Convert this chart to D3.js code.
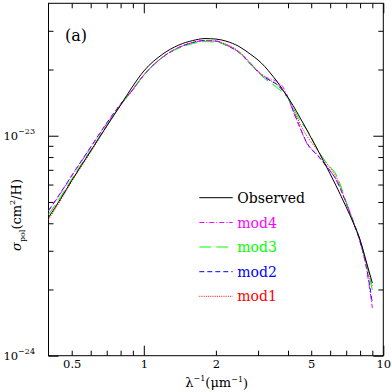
<!DOCTYPE html>
<html>
<head>
<meta charset="utf-8">
<script src="https://cdn.jsdelivr.net/npm/d3@7"></script>
<style>
  html, body { margin: 0; padding: 0; background: #fff; }
  svg { display: block; }
  text { font-family: "DejaVu Serif", serif; }
</style>
</head>
<body>
<svg id="chart" width="392" height="392"></svg>
<script>
// inverse wavelength (1/micron)
const invLambda = [0.4, 0.45, 0.5, 0.6, 0.7, 0.8, 0.9, 1.0, 1.2, 1.4, 1.6, 1.8, 2.0, 2.2, 2.5, 2.8, 3.0, 3.2, 3.4, 3.6, 3.8, 4.0, 4.2, 4.5, 4.8, 5.0, 5.3, 5.6, 6.0, 6.3, 6.6, 7.0, 7.5, 8.0, 8.5, 9.0];
// sigma_pol in units of 1e-23 cm^2/H
const observed = [0.4248,0.5182,0.6255,0.852,1.1067,1.379,1.682,1.968,2.351,2.584,2.708,2.765,2.751,2.694,2.544,2.339,2.209,2.063,1.908,1.764,1.622,1.492,1.372,1.203,1.061,0.976,0.870,0.775,0.670,0.603,0.543,0.474,0.401,0.336,0.2667,0.2141];
const mod4 = [0.4547,0.5489,0.6557,0.8839,1.136,1.3862,1.63,1.89,2.275,2.515,2.652,2.712,2.694,2.597,2.395,2.1287,1.955,1.85,1.8107,1.764,1.6737,1.492,1.295,1.08,0.922,0.872,0.822,0.762,0.693,0.64,0.58,0.497,0.408,0.331,0.25,0.1649];
const mod3 = [0.4384,0.5292,0.6354,0.8609,1.1125,1.379,1.6214,1.8873,2.2784,2.5042,2.6243,2.6796,2.666,2.5835,2.3891,2.1065,1.9481,1.8194,1.7365,1.6566,1.5719,1.4765,1.3436,1.1658,1.061,0.9862,0.870,0.7914,0.7209,0.6766,0.6029,0.4995,0.4052,0.336,0.2612,0.199];
const mod2 = [0.4571,0.5518,0.6591,0.8885,1.142,1.3935,1.6214,1.8873,2.2784,2.5173,2.6519,2.7078,2.6941,2.5835,2.3891,2.1065,1.9481,1.8385,1.7731,1.7095,1.6051,1.492,1.302,1.0834,0.9259,0.8698,0.817,0.759,0.6914,0.6421,0.5782,0.4943,0.4052,0.329,0.2531,0.1737];
const mod1 = [0.416,0.5101,0.619,0.8431,1.1009,1.3718,1.613,1.885,2.282,2.52,2.655,2.705,2.69,2.611,2.414,2.125,1.9687,1.8579,1.776,1.712,1.607,1.492,1.3296,1.1297,0.9964,0.936,0.8609,0.79,0.7134,0.6626,0.5905,0.493,0.404,0.3325,0.262,0.2053];

const seriesNames = ["Observed", "mod4", "mod3", "mod2", "mod1"];
const seriesColors = ["#000000", "#ff00ff", "#00ff00", "#0000ff", "#ff0000"];
const seriesDash = [null, "5,2,1,2", "12,5", "5,3", "1,1.2"];

const xTickLabels = [0.5, 1, 2, 5, 10];
const xMajorTicks = [1, 10];
const xMinorTicks = [0.5, 0.6, 0.7, 0.8, 0.9, 2, 3, 4, 5, 6, 7, 8, 9];
const yMajorTicks = [0.1, 1];
const yMajorExp = ["\u221224", "\u221223"];
const yMinorTicks = [0.2, 0.3, 0.4, 0.5, 0.6, 0.7, 0.8, 0.9, 2, 3];

const svg = d3.select("#chart");
const L = 48.5, R = 383.3, T = 3.3, B = 355.7;
const x = d3.scaleLog().domain([0.4, 10]).range([L, R]);
const y = d3.scaleLog().domain([0.1, 4]).range([B, T]);

// axes (ticks inward)
function addAxis(axis, tx, ty) {
  const g = svg.append("g").attr("transform", `translate(${tx},${ty})`).call(axis);
  g.select(".domain").remove();
  g.selectAll(".tick line").attr("stroke", "#000").attr("stroke-width", 1);
  g.selectAll("text").attr("font-family", "DejaVu Serif").attr("font-size", 11.5).attr("fill", "#000");
  return g;
}
// bottom
addAxis(d3.axisBottom(x).tickValues(xMinorTicks).tickSize(-5).tickFormat(""), 0, B);
addAxis(d3.axisBottom(x).tickValues(xMajorTicks).tickSize(-10).tickFormat(""), 0, B);
addAxis(d3.axisBottom(x).tickValues(xTickLabels).tickSize(0).tickPadding(4.5).tickFormat(d3.format("")), 0, B);
// top
addAxis(d3.axisTop(x).tickValues(xMinorTicks).tickSize(-5).tickFormat(""), 0, T);
addAxis(d3.axisTop(x).tickValues(xMajorTicks).tickSize(-10).tickFormat(""), 0, T);
// left
addAxis(d3.axisLeft(y).tickValues(yMinorTicks).tickSize(-5).tickFormat(""), L, 0);
const yl = addAxis(d3.axisLeft(y).tickValues(yMajorTicks).tickSize(-10).tickPadding(13.5).tickFormat(""), L, 0);
yl.selectAll(".tick text").each(function(d, i) {
  const t = d3.select(this).attr("dy", "0.37em");
  t.append("tspan").text("10");
  t.append("tspan").attr("font-size", 8).attr("dy", "-0.75em").text(yMajorExp[i]);
});
// right
addAxis(d3.axisRight(y).tickValues(yMinorTicks).tickSize(-5).tickFormat(""), R, 0);
addAxis(d3.axisRight(y).tickValues(yMajorTicks).tickSize(-10).tickFormat(""), R, 0);

// frame
svg.append("rect").attr("x", L).attr("y", T).attr("width", R - L).attr("height", B - T)
  .attr("fill", "none").attr("stroke", "#000").attr("stroke-width", 1);

// curves
const allSeries = [observed, mod4, mod3, mod2, mod1];
const line = d3.line().x(d => x(d[0])).y(d => y(d[1])).curve(d3.curveMonotoneX);
const drawOrder = [4, 3, 2, 1, 0];
drawOrder.forEach(i => {
  const pts = invLambda.map((v, k) => [v, allSeries[i][k]]);
  svg.append("path").datum(pts).attr("d", line)
    .attr("fill", "none").attr("stroke", seriesColors[i]).attr("stroke-width", 1)
    .attr("stroke-dasharray", seriesDash[i]);
});

// legend
const legY = [197.7, 222.5, 247, 271.7, 296.3];
seriesNames.forEach((name, i) => {
  svg.append("line").attr("x1", 199.3).attr("x2", 232.7).attr("y1", legY[i]).attr("y2", legY[i])
    .attr("stroke", seriesColors[i]).attr("stroke-width", 1).attr("stroke-dasharray", seriesDash[i]);
  svg.append("text").attr("x", 237.3).attr("y", legY[i] + 5).attr("font-size", 14)
    .attr("fill", seriesColors[i]).text(name);
});

// panel label
svg.append("text").attr("x", 65).attr("y", 41).attr("font-size", 16).text("(a)");

// x axis title
const xt = svg.append("text").attr("x", 216.7).attr("y", 387).attr("text-anchor", "middle").attr("font-size", 13);
xt.append("tspan").text("\u03bb");
xt.append("tspan").attr("font-size", 8).attr("dy", "-0.7em").text("\u22121");
xt.append("tspan").attr("dy", "0.45em").text("(\u03bcm");
xt.append("tspan").attr("font-size", 8).attr("dy", "-0.7em").text("\u22121");
xt.append("tspan").attr("dy", "0.45em").text(")");

// y axis title
const ytl = svg.append("text").attr("transform", "translate(21,215) rotate(-90)").attr("text-anchor", "middle").attr("font-size", 13);
ytl.append("tspan").attr("font-style", "italic").text("\u03c3");
ytl.append("tspan").attr("font-size", 8).attr("dy", "0.45em").text("pol");
ytl.append("tspan").attr("dy", "-0.28em").text("(cm");
ytl.append("tspan").attr("font-size", 8).attr("dy", "-0.7em").text("2");
ytl.append("tspan").attr("dy", "0.45em").text("/H)");
</script>
</body>
</html>
